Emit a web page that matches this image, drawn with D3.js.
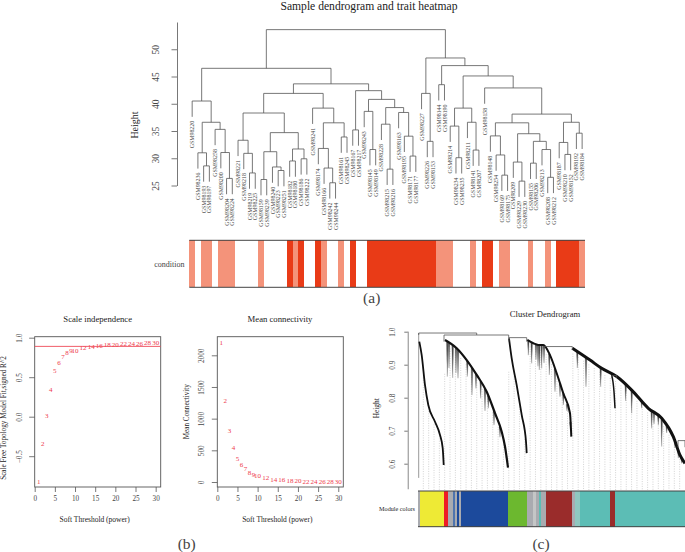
<!DOCTYPE html>
<html>
<head>
<meta charset="utf-8">
<script src="https://cdn.jsdelivr.net/npm/d3@7"></script>
<style>
  html, body { margin: 0; padding: 0; background: #fff; overflow: hidden; }
  text { font-family: "Liberation Serif", serif; fill: #444; }
</style>
</head>
<body>
<div id="vis"></div>
<script>
// (a) sample tree: [height, left, right], a string is a leaf
const sampleTree = [53.6,
  [46.5,
    [40.5, "GSM98220",
      [36.6,
        [31.0, "GSM98236", [28.6, "GSM98193", "GSM98197"]],
        [35.3, "GSM98258", [31.05, "GSM98200", [26.3, "GSM98204", "GSM98224"]]]]],
    [43.65,
      [41.9,
        [38.3,
          [33.3, "GSM98221", [30.9, "GSM98218", [27.3, "GSM98219", "GSM98225"]]],
          [34.7,
            [31.2, [26.1, "GSM98159", "GSM98239"], [28.4, "GSM98240", [27.75, "GSM98223", "GSM98251"]]],
            [31.7, [29.5, "GSM98182", "GSM98180"], [29.9, "GSM98186", "GSM98222"]]]],
        [39.2, "GSM98241",
          [36.5,
            [31.8, "GSM98174", [28.2, "GSM98166", [25.5, "GSM98242", "GSM98244"]]],
            [33.9, "GSM98161", "GSM98245"]]]],
      [42.4,
        [35.2, "GSM98167", "GSM98217"],
        [40.8,
          [38.6, "GSM98243", [31.6, "GSM98145", "GSM98149"]],
          [39.3,
            [36.25, "GSM98228", [28.0, "GSM98215", "GSM98216"]],
            [38.4, "GSM98163", [34.05, "GSM98195", [30.4, "GSM98171", "GSM98177"]]]]]]]],
  [48.4,
    [41.9, "GSM98227", [33.1, "GSM98226", "GSM98153"]],
    [47.0,
      [43.5, "GSM98144", "GSM98190"],
      [45.1,
        [39.2,
          [35.9, "GSM98214", [30.1, "GSM98234", "GSM98235"]],
          [36.6, "GSM98211", [31.5, "GSM98141", "GSM98207"]]],
        [42.9, "GSM98158",
          [38.1,
            [36.5,
              [34.1, "GSM98148", [30.6, "GSM98254", [26.9, "GSM98169", "GSM98175"]]],
              [34.5,
                [29.3, "GSM98209", [25.8, "GSM98229", "GSM98230"]],
                [33.1, [29.1, "GSM98155", "GSM98206"], [31.6, "GSM98213", [26.5, "GSM98208", "GSM98212"]]]]],
            [36.6,
              [32.9, "GSM98187", [30.7, "GSM98210", "GSM98152"]],
              [34.6, "GSM98192", "GSM98184"]]]]]]]];

const conditionValues = [1,0,1,1,0,1,1,1,0,0,0,0,1,0,0,0,0,2,1,2,0,0,2,1,0,0,1,0,2,0,0,
  2,2,2,2,2,2,2,2,2,2,2,2,1,1,1,0,0,0,1,0,2,2,0,1,1,0,0,0,1,0,0,1,0,2,2,2,2,1];

const heightTicks = [25, 30, 35, 40, 45, 50];

// (b) soft threshold
const powers = [1,2,3,4,5,6,7,8,9,10,12,14,16,18,20,22,24,26,28,30];
const fitValues = [-0.823,-0.338,0.017,0.338,0.586,0.684,0.76,0.81,0.84,0.84,0.873,0.89,0.903,0.907,0.916,0.92,0.924,0.928,0.937,0.941];
const connectivityValues = [2200,1284,810,537,374,268,205,153,121,95,63,42,32,21,16,11,10,9,6,5];
const powerTicks = [0, 5, 10, 15, 20, 25, 30];
const fitTicks = [-0.5, 0, 0.5, 1];
const connectivityTicks = [0, 500, 1000, 1500, 2000];
const fitCutoff = 0.89;

// (c) gene dendrogram branches, [order, height]
const singletonBranch = [[0.7, 0.996], [0.7, 0.557]];
const yellowBranch = [[1.3,0.97],[3.7,0.929],[7,0.838],[10.3,0.778],[17,0.727],[22,0.687],[24.7,0.647],[25.7,0.596]];
const blueBranch = [[27,0.975],[38.7,0.95],[48.7,0.914],[58.7,0.869],[68.7,0.818],[77,0.753],[83.7,0.697],[87,0.652],[90,0.588]];
const greenBranch = [[91,0.98],[93.7,0.919],[98.7,0.838],[103.7,0.748],[108,0.667],[108.7,0.632]];
const brownBranch = [[109.3,0.975],[115.3,0.965],[120.3,0.96],[125.3,0.96],[132,0.929],[138.7,0.874],[145.3,0.813],[152,0.753],[153.3,0.682]];
const tealBranch = [[154.3,0.95],[172,0.914],[183.7,0.889],[198.7,0.864],[213.7,0.823],[230.3,0.768],[243.7,0.738],[255.3,0.682],[262,0.626],[267,0.601]];
const tealSideBranch = [[193.7,0.869],[196,0.818],[197,0.768]];

// side spikes hanging off a branch, [order, lowest height]
const blueSpikes = [[29.3,0.864],[31,0.89],[34.7,0.86],[38,0.875],[40,0.859],[49.3,0.864],[54,0.808],[58,0.828],[62.7,0.798],[67,0.76],[70.3,0.768],[76,0.717],[82,0.68],[88.5,0.62]];
const brownSpikes = [[110.3,0.929],[113.7,0.904],[118,0.915],[120,0.895],[121.3,0.884],[123.7,0.889],[126,0.905],[131.3,0.869],[137,0.818],[142,0.803],[145.3,0.778],[149,0.76],[152.5,0.7]];
const tealSpikes = [[159.3,0.89],[168,0.833],[182.7,0.833],[207.7,0.79],[213.7,0.753],[223.7,0.768],[233.7,0.707],[236,0.72],[240.3,0.717],[243.7,0.652],[248.7,0.693],[257,0.648],[260.3,0.617],[263.7,0.601],[266.3,0.602]];

// joins between branches, [left order, right order, height, left end, right end]
const clusterJoins = [
  [0.7, 58.7, 0.996, 0.99, 0.99],
  [26, 90.7, 0.99, 0.97, 0.98],
  [91, 108.7, 0.982, 0.97, 0.97],
  [125.3, 154.3, 0.955, 0.95, 0.945],
  [193.7, 198.7, 0.867, 0.86, 0.86],
  [260, 267, 0.67, 0.65, 0.65]
];

const moduleRuns = [
  ["grey",1.7],["yellow",24.3],["red",4],["grey",5],["steel",1.7],["grey",2],["blue",2.3],["grey",1.7],
  ["blue",47.3],["green",19],["grey",6],["lightgrey",3.3],["grey",2.4],["teal",2],["grey",5],["brown",26],
  ["grey",3],["lightteal",5],["teal",30.7],["brown",5],["teal",69.3]
];
const clusterTicks = [0.6, 0.7, 0.8, 0.9, 1.0];

const FRAME_WIDTH = 685;
const FRAME_HEIGHT = 552;
const LINE = "#555";

const FRAME = d3.select("#vis").append("svg")
    .attr("width", FRAME_WIDTH)
    .attr("height", FRAME_HEIGHT)
    .style("display", "block");

// centred text, optionally turned to read upward
function label(txt, x, y, size, rotated) {
  const t = FRAME.append("text")
      .attr("text-anchor", "middle")
      .attr("font-size", size)
      .attr("dy", "0.35em")
      .text(txt);
  t.attr("transform", "translate(" + x + "," + y + ")" + (rotated ? " rotate(-90)" : ""));
  return t;
}

function styleAxis(g, size) {
  g.selectAll("path, line").attr("stroke", LINE).attr("stroke-width", 0.8);
  g.selectAll("text").attr("font-size", size).attr("fill", "#444")
      .attr("font-family", "Liberation Serif");
}

// left axis with its tick labels turned sideways
function leftAxis(scale, ticks, x, size, labelGap, fmt) {
  const g = FRAME.append("g")
      .attr("transform", "translate(" + x + ",0)")
      .call(d3.axisLeft(scale).tickValues(ticks).tickSize(5.5).tickSizeOuter(0).tickFormat(fmt));
  styleAxis(g, size);
  g.selectAll("text")
      .attr("text-anchor", "middle")
      .attr("x", 0).attr("dy", 0)
      .attr("transform", "translate(" + (-labelGap) + ",0) rotate(-90)");
  return g;
}

/* ---------- (a) sample dendrogram ---------- */
const root = d3.hierarchy(sampleTree, (d) => { return Array.isArray(d) ? d.slice(1) : null; });
const leaves = root.leaves();

const SAMPLE_X = d3.scaleBand().domain(d3.range(leaves.length)).range([189.3, 585]);
const SAMPLE_Y = d3.scaleLinear().domain([25, 55]).range([185.5, 22]);
const LEAF_HANG = 2.9;

leaves.forEach((d, i) => { d.x = SAMPLE_X(i) + SAMPLE_X.bandwidth() / 2; });
root.eachAfter((d) => {
  if (d.children) {
    d.x = (d.children[0].x + d.children[1].x) / 2;
    d.h = d.data[0];
  }
});
const nodes = root.descendants().filter((d) => { return d.children; });
const hangEnd = (d) => { return d.parent.h - LEAF_HANG; };

const treePath = d3.path();
nodes.forEach((d) => {
  const a = d.children[0], b = d.children[1];
  treePath.moveTo(a.x, a.children ? SAMPLE_Y(a.h) : SAMPLE_Y(hangEnd(a)));
  treePath.lineTo(a.x, SAMPLE_Y(d.h));
  treePath.lineTo(b.x, SAMPLE_Y(d.h));
  treePath.lineTo(b.x, b.children ? SAMPLE_Y(b.h) : SAMPLE_Y(hangEnd(b)));
});
FRAME.append("path")
    .attr("d", treePath.toString())
    .attr("fill", "none")
    .attr("stroke", LINE)
    .attr("stroke-width", 0.8);

FRAME.selectAll(".leaf")
    .data(leaves)
    .enter()
    .append("text")
    .attr("class", "leaf")
    .attr("font-size", 5.9)
    .attr("text-anchor", "end")
    .attr("dy", "0.35em")
    .attr("transform", (d) => {
      return "translate(" + d.x + "," + (SAMPLE_Y(hangEnd(d)) + 4) + ") rotate(-90)";
    })
    .text((d) => { return d.data; });

leftAxis(SAMPLE_Y, heightTicks, 177, 9.5, 18, d3.format("d"));
label("Sample dendrogram and trait heatmap", 369, 5.6, 11.6).style("fill", "#222");
label("Height", 134.7, 125, 10, true).style("fill", "#222");

// condition strip
const CONDITION_COLOR = d3.scaleOrdinal().domain([0, 1, 2]).range(["#ffffff", "#f4937a", "#e93b17"]);
const STRIP_TOP = 240.3, STRIP_BOTTOM = 287.3;

FRAME.selectAll(".cell")
    .data(conditionValues)
    .enter()
    .append("rect")
    .attr("class", "cell")
    .attr("x", (d, i) => { return SAMPLE_X(i); })
    .attr("y", STRIP_TOP)
    .attr("width", SAMPLE_X.bandwidth() + 0.1)
    .attr("height", STRIP_BOTTOM - STRIP_TOP)
    .attr("shape-rendering", "crispEdges")
    .attr("fill", (d) => { return CONDITION_COLOR(d); });

[STRIP_TOP, STRIP_BOTTOM].forEach((y) => {
  FRAME.append("line")
      .attr("x1", 189.3).attr("x2", 585)
      .attr("y1", y).attr("y2", y)
      .attr("stroke", "#444");
});
label("condition", 184.5, 264, 8).attr("text-anchor", "end");
label("(a)", 371.7, 297.5, 15.5);

/* ---------- (b) soft threshold panels ---------- */
function powerPanel(left, values, yScale, yTicks, yFmt, titleTxt, titleX, yTxt, yTxtX, yTxtY, tickX, xTxtX) {
  const x = d3.scaleLinear().domain([0, 31.25]).range([left, left + 126]);
  FRAME.append("rect")
      .attr("x", left).attr("y", 336.7)
      .attr("width", 126).attr("height", 150.3)
      .attr("fill", "none").attr("stroke", LINE).attr("stroke-width", 0.9);

  const xAxis = FRAME.append("g")
      .attr("transform", "translate(0,487)")
      .call(d3.axisBottom(x).tickValues(powerTicks).tickSize(5).tickSizeOuter(0).tickPadding(4));
  styleAxis(xAxis, 7.2);
  xAxis.select(".domain").remove();

  leftAxis(yScale, yTicks, left, 7.2, left - tickX, yFmt).select(".domain").remove();

  FRAME.selectAll(null)
      .data(powers)
      .enter()
      .append("text")
      .attr("x", (d) => { return x(d); })
      .attr("y", (d, i) => { return yScale(values[i]); })
      .attr("dy", "0.35em")
      .attr("text-anchor", "middle")
      .attr("font-size", 7)
      .style("fill", "#ee3a4c")
      .text((d) => { return d; });

  label(titleTxt, titleX, 318.7, 8.7).style("fill", "#222");
  label("Soft Threshold (power)", xTxtX, 519, 7.5).style("fill", "#222");
  label(yTxt, yTxtX, yTxtY, 7.2, true).style("fill", "#222");
  return x;
}

const FIT_Y = d3.scaleLinear().domain([0, 1]).range([416.7, 337.7]);
const CONN_Y = d3.scaleLinear().domain([0, 2000]).range([482, 355.3]);

const FIT_X = powerPanel(34.7, fitValues, FIT_Y, fitTicks, d3.format(".1f"), "Scale independence", 97.7,
    "Scale Free Topology Model Fit,signed R^2", 3.3, 418, 21.7, 94.7);
powerPanel(217.3, connectivityValues, CONN_Y, connectivityTicks, d3.format("d"), "Mean connectivity", 280,
    "Mean Connectivity", 186, 411.7, 204, 277.3);

FRAME.append("line")
    .attr("x1", FIT_X(0)).attr("x2", FIT_X(31.25))
    .attr("y1", FIT_Y(fitCutoff)).attr("y2", FIT_Y(fitCutoff))
    .attr("stroke", "#ee4a58").attr("stroke-width", 0.9);
label("(b)", 186.7, 544, 15.5);

/* ---------- (c) cluster dendrogram ---------- */
const GENE_X = d3.scaleLinear().domain([0, 267]).range([418, 685]);
const GENE_Y = d3.scaleLinear().domain([0.6, 1]).range([463.7, 331.7]);
const BAR_TOP = 491, BAR_BOTTOM = 526.7;

// dotted guides hang below the branch found at each position
const outline = [].concat(yellowBranch, blueBranch, greenBranch, brownBranch, tealBranch);
const outlineH = d3.scaleLinear()
    .domain(outline.map((d) => { return d[0]; }))
    .range(outline.map((d) => { return d[1]; }))
    .clamp(true);
FRAME.selectAll(".guide")
    .data(d3.range(1, 50).map((i) => { return i * 5.34; }))
    .enter()
    .append("line")
    .attr("class", "guide")
    .attr("x1", (d) => { return GENE_X(d); })
    .attr("x2", (d) => { return GENE_X(d); })
    .attr("y1", (d) => { return GENE_Y(outlineH(d)) + 5; })
    .attr("y2", BAR_TOP - 1)
    .attr("stroke", "#c8c8c8")
    .attr("stroke-width", 0.8)
    .attr("stroke-dasharray", "1,1.4");

const branchLine = d3.line()
    .x((d) => { return GENE_X(d[0]); })
    .y((d) => { return GENE_Y(d[1]); });
const branchCurve = d3.line()
    .x((d) => { return GENE_X(d[0]); })
    .y((d) => { return GENE_Y(d[1]); })
    .curve(d3.curveMonotoneX);

// spikes taper from the branch down to their lowest height
FRAME.selectAll(".spike")
    .data([].concat(blueSpikes, brownSpikes, tealSpikes))
    .enter()
    .append("path")
    .attr("class", "spike")
    .attr("d", (d) => {
      const x = GENE_X(d[0]), top = GENE_Y(outlineH(d[0]));
      return "M" + (x - 0.9) + "," + top + "L" + (x + 0.9) + "," + top + "L" + x + "," + GENE_Y(d[1]) + "Z";
    })
    .attr("fill", "#444")
    .attr("stroke", "#777")
    .attr("stroke-width", 0.3);

FRAME.append("path")
    .attr("d", branchLine(singletonBranch))
    .attr("stroke", "#999")
    .attr("stroke-width", 1);

[[yellowBranch, 1.8], [blueBranch, 2.2], [greenBranch, 1.8], [brownBranch, 2], [tealBranch, 3], [tealSideBranch, 1.5]].forEach((b) => {
  FRAME.append("path")
      .attr("d", branchCurve(b[0]))
      .attr("fill", "none")
      .attr("stroke", "#111")
      .attr("stroke-width", b[1]);
});

clusterJoins.forEach((j) => {
  FRAME.append("path")
      .attr("d", branchLine([[j[0], j[3]], [j[0], j[2]], [j[1], j[2]], [j[1], j[4]]]))
      .attr("fill", "none")
      .attr("stroke", LINE)
      .attr("stroke-width", 0.8);
});

const clusterAxis = FRAME.append("g")
    .attr("transform", "translate(408.3,0)")
    .call(d3.axisLeft(GENE_Y).tickValues(clusterTicks).tickSize(4).tickSizeOuter(0).tickFormat(d3.format(".1f")));
clusterAxis.select(".domain").remove();
styleAxis(clusterAxis, 7.2);
clusterAxis.selectAll("text")
    .attr("text-anchor", "middle")
    .attr("x", 0).attr("dy", 0)
    .attr("transform", "translate(-13.3,0) rotate(-90)");
FRAME.append("line")
    .attr("x1", 408.3).attr("x2", 408.3)
    .attr("y1", GENE_Y(1)).attr("y2", 489.3)
    .attr("stroke", "#aaa").attr("stroke-width", 1.4);

const MODULE_COLOR = d3.scaleOrdinal()
    .domain(["grey", "lightgrey", "yellow", "red", "steel", "blue", "green", "teal", "lightteal", "brown"])
    .range(["#a9abb0", "#c4c6c6", "#eeea35", "#ee1c25", "#4f74ad", "#1c4a9c", "#6cb82f", "#5cbdb5", "#8fc8c0", "#9a2c2b"]);

let runStart = 0;
const runs = moduleRuns.map((r) => {
  const out = { name: r[0], start: runStart, end: runStart + r[1] };
  runStart = out.end;
  return out;
});
FRAME.selectAll(".run")
    .data(runs)
    .enter()
    .append("rect")
    .attr("class", "run")
    .attr("x", (d) => { return GENE_X(d.start); })
    .attr("y", BAR_TOP)
    .attr("width", (d) => { return GENE_X(d.end) - GENE_X(d.start); })
    .attr("height", BAR_BOTTOM - BAR_TOP)
    .attr("shape-rendering", "crispEdges")
    .attr("fill", (d) => { return MODULE_COLOR(d.name); });

[BAR_TOP, BAR_BOTTOM].forEach((y) => {
  FRAME.append("line")
      .attr("x1", GENE_X(0)).attr("x2", GENE_X(267))
      .attr("y1", y).attr("y2", y)
      .attr("stroke", "#444");
});

label("Cluster Dendrogram", 545, 314.3, 8.6).style("fill", "#222");
label("Height", 376.7, 408.3, 7.4, true).style("fill", "#222");
label("Module colors", 415, 509, 6.2).attr("text-anchor", "end").style("fill", "#222");
label("(c)", 541, 544, 15.5);
</script>
</body>
</html>
